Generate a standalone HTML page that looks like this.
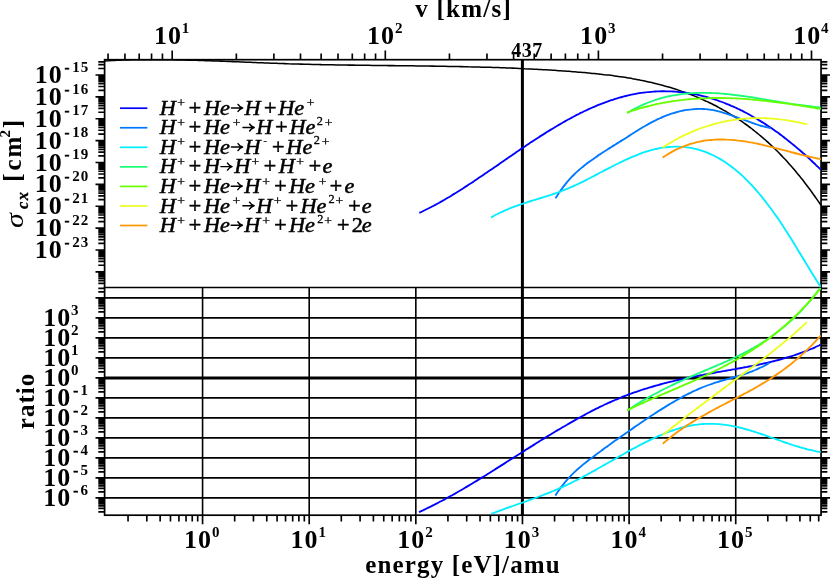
<!DOCTYPE html>
<html><head><meta charset="utf-8"><title>cross sections</title>
<style>html,body{margin:0;padding:0;background:#fff}svg{display:block;will-change:transform}</style></head>
<body>
<svg width="830" height="579" viewBox="0 0 830 579">
<rect width="830" height="579" fill="#fff"/>
<g stroke="#000" fill="none" stroke-linecap="butt">
<line x1="104.6" x2="821.05" y1="497.94" y2="497.94" stroke-width="1.7"/>
<line x1="104.6" x2="821.05" y1="477.94" y2="477.94" stroke-width="1.7"/>
<line x1="104.6" x2="821.05" y1="457.94" y2="457.94" stroke-width="1.7"/>
<line x1="104.6" x2="821.05" y1="437.94" y2="437.94" stroke-width="1.7"/>
<line x1="104.6" x2="821.05" y1="417.94" y2="417.94" stroke-width="1.7"/>
<line x1="104.6" x2="821.05" y1="397.94" y2="397.94" stroke-width="1.7"/>
<line x1="104.6" x2="821.05" y1="357.94" y2="357.94" stroke-width="1.7"/>
<line x1="104.6" x2="821.05" y1="337.94" y2="337.94" stroke-width="1.7"/>
<line x1="104.6" x2="821.05" y1="317.94" y2="317.94" stroke-width="1.7"/>
<line x1="104.6" x2="821.05" y1="297.94" y2="297.94" stroke-width="1.7"/>
<line x1="202.57" x2="202.57" y1="287.5" y2="515.2" stroke-width="1.6"/>
<line x1="309.2" x2="309.2" y1="287.5" y2="515.2" stroke-width="1.6"/>
<line x1="415.83" x2="415.83" y1="287.5" y2="515.2" stroke-width="1.6"/>
<line x1="629.09" x2="629.09" y1="287.5" y2="515.2" stroke-width="1.6"/>
<line x1="735.72" x2="735.72" y1="287.5" y2="515.2" stroke-width="1.6"/>
</g>
<g stroke="#000" fill="none" stroke-width="1.7" stroke-linecap="square">
<rect x="104.6" y="59.7" width="716.45" height="455.5"/>
<line x1="104.6" x2="821.05" y1="287.5" y2="287.5"/>
</g>
<line x1="522.4" x2="522.4" y1="59.7" y2="515.2" stroke="#000" stroke-width="3"/>
<line x1="104.6" x2="821.05" y1="377.94" y2="377.94" stroke="#000" stroke-width="3"/>
<defs><clipPath id="cu"><rect x="104.6" y="59.7" width="716.45" height="227.8"/></clipPath><clipPath id="cl"><rect x="104.6" y="287.5" width="716.45" height="227.7"/></clipPath></defs>
<g fill="none" stroke-width="1.85" stroke-linejoin="round" clip-path="url(#cu)">
<path d="M104.6,60.9C105.3,60.8 107.3,60.7 108.6,60.7C109.9,60.6 111.3,60.5 112.6,60.5C113.9,60.4 115.3,60.4 116.6,60.3C117.9,60.3 119.3,60.2 120.6,60.2C121.9,60.1 123.3,60.1 124.6,60C125.9,60 127.3,60 128.6,59.9C129.9,59.9 131.3,59.9 132.6,59.8C133.9,59.8 135.3,59.8 136.6,59.8C137.9,59.8 139.3,59.7 140.6,59.7C141.9,59.7 143.3,59.7 144.6,59.7C145.9,59.7 147.3,59.7 148.6,59.7C149.9,59.6 151.3,59.6 152.6,59.6C153.9,59.6 155.3,59.6 156.6,59.6C157.9,59.7 159.3,59.7 160.6,59.7C161.9,59.7 163.3,59.7 164.6,59.7C165.9,59.7 167.3,59.7 168.6,59.7C169.9,59.8 171.3,59.8 172.6,59.8C173.9,59.8 175.3,59.8 176.6,59.9C177.9,59.9 179.3,59.9 180.6,59.9C181.9,60 183.3,60 184.6,60C185.9,60.1 187.3,60.1 188.6,60.1C189.9,60.2 191.3,60.2 192.6,60.2C193.9,60.3 195.3,60.3 196.6,60.3C197.9,60.4 199.3,60.4 200.6,60.5C201.9,60.5 203.3,60.5 204.6,60.6C205.9,60.6 207.3,60.7 208.6,60.7C209.9,60.8 211.3,60.8 212.6,60.9C213.9,60.9 215.3,60.9 216.6,61C217.9,61 219.3,61.1 220.6,61.1C221.9,61.2 223.3,61.2 224.6,61.3C225.9,61.3 227.3,61.4 228.6,61.5C229.9,61.5 231.3,61.6 232.6,61.6C233.9,61.7 235.3,61.7 236.6,61.8C237.9,61.8 239.3,61.9 240.6,61.9C241.9,62 243.3,62 244.6,62.1C245.9,62.1 247.3,62.2 248.6,62.3C249.9,62.3 251.3,62.4 252.6,62.4C253.9,62.5 255.3,62.5 256.6,62.6C257.9,62.6 259.3,62.7 260.6,62.7C261.9,62.8 263.3,62.8 264.6,62.9C265.9,62.9 267.3,63 268.6,63C269.9,63.1 271.3,63.2 272.6,63.2C273.9,63.2 275.3,63.3 276.6,63.3C277.9,63.4 279.3,63.4 280.6,63.5C281.9,63.5 283.3,63.6 284.6,63.6C285.9,63.7 287.3,63.7 288.6,63.8C289.9,63.8 291.3,63.8 292.6,63.9C293.9,63.9 295.3,64 296.6,64C297.9,64 299.3,64.1 300.6,64.1C301.9,64.2 303.3,64.2 304.6,64.2C305.9,64.3 307.3,64.3 308.6,64.3C309.9,64.4 311.3,64.4 312.6,64.4C313.9,64.5 315.3,64.5 316.6,64.5C317.9,64.5 319.3,64.6 320.6,64.6C321.9,64.6 323.3,64.7 324.6,64.7C325.9,64.7 327.3,64.7 328.6,64.8C329.9,64.8 331.3,64.8 332.6,64.8C333.9,64.9 335.3,64.9 336.6,64.9C337.9,64.9 339.3,64.9 340.6,65C341.9,65 343.3,65 344.6,65C345.9,65 347.3,65.1 348.6,65.1C349.9,65.1 351.3,65.1 352.6,65.1C353.9,65.2 355.3,65.2 356.6,65.2C357.9,65.2 359.3,65.2 360.6,65.2C361.9,65.3 363.3,65.3 364.6,65.3C365.9,65.3 367.3,65.3 368.6,65.3C369.9,65.4 371.3,65.4 372.6,65.4C373.9,65.4 375.3,65.4 376.6,65.4C377.9,65.5 379.3,65.5 380.6,65.5C381.9,65.5 383.3,65.5 384.6,65.5C385.9,65.5 387.3,65.6 388.6,65.6C389.9,65.6 391.3,65.6 392.6,65.6C393.9,65.6 395.3,65.6 396.6,65.7C397.9,65.7 399.3,65.7 400.6,65.7C401.9,65.7 403.3,65.7 404.6,65.7C405.9,65.8 407.3,65.8 408.6,65.8C409.9,65.8 411.3,65.8 412.6,65.8C413.9,65.9 415.3,65.9 416.6,65.9C417.9,65.9 419.3,65.9 420.6,65.9C421.9,66 423.3,66 424.6,66C425.9,66 427.3,66 428.6,66C429.9,66.1 431.3,66.1 432.6,66.1C433.9,66.1 435.3,66.1 436.6,66.2C437.9,66.2 439.3,66.2 440.6,66.2C441.9,66.2 443.3,66.3 444.6,66.3C445.9,66.3 447.3,66.3 448.6,66.4C449.9,66.4 451.3,66.4 452.6,66.4C453.9,66.4 455.3,66.5 456.6,66.5C457.9,66.5 459.3,66.6 460.6,66.6C461.9,66.6 463.3,66.6 464.6,66.7C465.9,66.7 467.3,66.7 468.6,66.8C469.9,66.8 471.3,66.8 472.6,66.9C473.9,66.9 475.3,66.9 476.6,67C477.9,67 479.3,67 480.6,67.1C481.9,67.1 483.3,67.1 484.6,67.2C485.9,67.2 487.3,67.2 488.6,67.3C489.9,67.3 491.3,67.4 492.6,67.4C493.9,67.5 495.3,67.5 496.6,67.5C497.9,67.6 499.3,67.6 500.6,67.7C501.9,67.7 503.3,67.8 504.6,67.8C505.9,67.9 507.3,67.9 508.6,68C509.9,68 511.3,68.1 512.6,68.1C513.9,68.2 515.3,68.3 516.6,68.3C517.9,68.4 519.3,68.4 520.6,68.5C521.9,68.5 523.3,68.6 524.6,68.7C525.9,68.7 527.3,68.8 528.6,68.9C529.9,68.9 531.3,69 532.6,69.1C533.9,69.1 535.3,69.2 536.6,69.3C537.9,69.4 539.3,69.4 540.6,69.5C541.9,69.6 543.3,69.7 544.6,69.7C545.9,69.8 547.3,69.9 548.6,70C549.9,70.1 551.3,70.1 552.6,70.2C553.9,70.3 555.3,70.4 556.6,70.5C557.9,70.6 559.3,70.7 560.6,70.8C561.9,70.9 563.3,71 564.6,71C565.9,71.1 567.3,71.2 568.6,71.3C569.9,71.4 571.3,71.5 572.6,71.7C573.9,71.8 575.3,71.9 576.6,72C577.9,72.1 579.3,72.2 580.6,72.3C581.9,72.4 583.3,72.5 584.6,72.6C585.9,72.8 587.3,72.9 588.6,73C589.9,73.1 591.3,73.3 592.6,73.4C593.9,73.5 595.3,73.7 596.6,73.8C597.9,73.9 599.3,74.1 600.6,74.2C601.9,74.4 603.3,74.5 604.6,74.7C605.9,74.8 607.3,75 608.6,75.1C609.9,75.3 611.3,75.5 612.6,75.6C613.9,75.8 615.3,76 616.6,76.2C617.9,76.4 619.3,76.5 620.6,76.7C621.9,76.9 623.3,77.1 624.6,77.3C625.9,77.6 627.3,77.8 628.6,78C629.9,78.2 631.3,78.4 632.6,78.7C633.9,78.9 635.3,79.2 636.6,79.4C637.9,79.7 639.3,79.9 640.6,80.2C641.9,80.4 643.3,80.7 644.6,81C645.9,81.3 647.3,81.6 648.6,81.9C649.9,82.2 651.3,82.5 652.6,82.8C653.9,83.1 655.3,83.4 656.6,83.8C657.9,84.1 659.3,84.4 660.6,84.8C661.9,85.1 663.3,85.5 664.6,85.9C665.9,86.2 667.3,86.6 668.6,87C669.9,87.4 671.3,87.8 672.6,88.2C673.9,88.6 675.3,89.1 676.6,89.5C677.9,89.9 679.3,90.4 680.6,90.9C681.9,91.3 683.3,91.8 684.6,92.3C685.9,92.7 687.3,93.2 688.6,93.8C689.9,94.3 691.3,94.8 692.6,95.3C693.9,95.8 695.3,96.4 696.6,96.9C697.9,97.5 699.3,98.1 700.6,98.7C701.9,99.2 703.3,99.8 704.6,100.5C705.9,101.1 707.3,101.7 708.6,102.3C709.9,103 711.3,103.6 712.6,104.3C713.9,105 715.3,105.6 716.6,106.3C717.9,107 719.3,107.8 720.6,108.5C721.9,109.2 723.3,110 724.6,110.7C725.9,111.5 727.3,112.3 728.6,113.1C729.9,113.9 731.3,114.7 732.6,115.5C733.9,116.3 735.3,117.2 736.6,118C737.9,118.9 739.3,119.8 740.6,120.7C741.9,121.6 743.3,122.5 744.6,123.5C745.9,124.4 747.3,125.4 748.6,126.4C749.9,127.4 751.3,128.4 752.6,129.4C753.9,130.5 755.3,131.5 756.6,132.6C757.9,133.7 759.3,134.8 760.6,135.9C761.9,137 763.3,138.2 764.6,139.3C765.9,140.5 767.3,141.7 768.6,142.9C769.9,144.1 771.3,145.4 772.6,146.6C773.9,147.9 775.3,149.2 776.6,150.5C777.9,151.9 779.3,153.2 780.6,154.6C781.9,156 783.3,157.4 784.6,158.8C785.9,160.2 787.3,161.7 788.6,163.2C789.9,164.7 791.3,166.2 792.6,167.7C793.9,169.3 795.3,170.8 796.6,172.5C797.9,174.1 799.3,175.7 800.6,177.4C801.9,179 803.3,180.7 804.6,182.5C805.9,184.2 807.3,186 808.6,187.8C809.9,189.5 811.3,191.4 812.6,193.2C813.9,195.1 815.3,197 816.6,198.9C817.9,200.8 819.9,203.8 820.6,204.8C821.3,205.8 820.7,204.9 820.7,205" stroke="#000" stroke-width="1.55"/>
<path d="M419.3,212.9C420,212.6 422,211.7 423.3,211C424.6,210.4 426,209.7 427.3,209C428.6,208.4 430,207.7 431.3,207C432.6,206.3 434,205.6 435.3,204.9C436.6,204.1 438,203.4 439.3,202.7C440.6,201.9 442,201.1 443.3,200.4C444.6,199.6 446,198.8 447.3,198C448.6,197.3 450,196.5 451.3,195.7C452.6,194.8 454,194 455.3,193.2C456.6,192.4 458,191.5 459.3,190.7C460.6,189.9 462,189 463.3,188.2C464.6,187.3 466,186.4 467.3,185.6C468.6,184.7 470,183.8 471.3,183C472.6,182.1 474,181.2 475.3,180.3C476.6,179.4 478,178.5 479.3,177.6C480.6,176.7 482,175.8 483.3,174.9C484.6,174 486,173.1 487.3,172.2C488.6,171.3 490,170.4 491.3,169.5C492.6,168.5 494,167.6 495.3,166.7C496.6,165.8 498,164.9 499.3,163.9C500.6,163 502,162.1 503.3,161.2C504.6,160.3 506,159.3 507.3,158.4C508.6,157.5 510,156.6 511.3,155.7C512.6,154.8 514,153.8 515.3,152.9C516.6,152 518,151.1 519.3,150.2C520.6,149.3 522,148.4 523.3,147.5C524.6,146.6 526,145.7 527.3,144.8C528.6,143.9 530,143 531.3,142.1C532.6,141.3 534,140.4 535.3,139.5C536.6,138.6 538,137.8 539.3,136.9C540.6,136.1 542,135.2 543.3,134.4C544.6,133.5 546,132.7 547.3,131.8C548.6,131 550,130.2 551.3,129.4C552.6,128.6 554,127.8 555.3,127C556.6,126.2 558,125.4 559.3,124.6C560.6,123.8 562,123 563.3,122.3C564.6,121.5 566,120.8 567.3,120C568.6,119.3 570,118.6 571.3,117.9C572.6,117.1 574,116.4 575.3,115.7C576.6,115 578,114.4 579.3,113.7C580.6,113 582,112.4 583.3,111.7C584.6,111.1 586,110.4 587.3,109.8C588.6,109.2 590,108.6 591.3,108C592.6,107.4 594,106.8 595.3,106.3C596.6,105.7 598,105.2 599.3,104.6C600.6,104.1 602,103.6 603.3,103.1C604.6,102.6 606,102.1 607.3,101.6C608.6,101.1 610,100.7 611.3,100.2C612.6,99.8 614,99.3 615.3,98.9C616.6,98.5 618,98.1 619.3,97.7C620.6,97.4 622,97 623.3,96.6C624.6,96.3 626,96 627.3,95.6C628.6,95.3 630,95 631.3,94.7C632.6,94.5 634,94.2 635.3,93.9C636.6,93.7 638,93.5 639.3,93.2C640.6,93 642,92.8 643.3,92.6C644.6,92.5 646,92.3 647.3,92.2C648.6,92 650,91.9 651.3,91.8C652.6,91.7 654,91.6 655.3,91.5C656.6,91.4 658,91.4 659.3,91.3C660.6,91.3 662,91.2 663.3,91.2C664.6,91.2 666,91.2 667.3,91.3C668.6,91.3 670,91.3 671.3,91.4C672.6,91.5 674,91.5 675.3,91.6C676.6,91.7 678,91.8 679.3,92C680.6,92.1 682,92.3 683.3,92.4C684.6,92.6 686,92.8 687.3,93C688.6,93.2 690,93.4 691.3,93.6C692.6,93.9 694,94.1 695.3,94.4C696.6,94.6 698,94.9 699.3,95.2C700.6,95.5 702,95.8 703.3,96.2C704.6,96.5 706,96.9 707.3,97.2C708.6,97.6 710,98 711.3,98.4C712.6,98.8 714,99.2 715.3,99.7C716.6,100.1 718,100.6 719.3,101.1C720.6,101.5 722,102 723.3,102.5C724.6,103 726,103.6 727.3,104.1C728.6,104.6 730,105.2 731.3,105.8C732.6,106.3 734,106.9 735.3,107.5C736.6,108.2 738,108.8 739.3,109.4C740.6,110.1 742,110.7 743.3,111.4C744.6,112.1 746,112.8 747.3,113.5C748.6,114.2 750,114.9 751.3,115.7C752.6,116.4 754,117.2 755.3,118C756.6,118.7 758,119.5 759.3,120.4C760.6,121.2 762,122 763.3,122.8C764.6,123.7 766,124.5 767.3,125.4C768.6,126.3 770,127.2 771.3,128.1C772.6,129 774,130 775.3,130.9C776.6,131.9 778,132.8 779.3,133.8C780.6,134.8 782,135.8 783.3,136.8C784.6,137.8 786,138.8 787.3,139.9C788.6,140.9 790,142 791.3,143.1C792.6,144.2 794,145.3 795.3,146.4C796.6,147.5 798,148.6 799.3,149.8C800.6,150.9 802,152.1 803.3,153.3C804.6,154.4 806,155.6 807.3,156.8C808.6,158.1 810,159.3 811.3,160.5C812.6,161.8 814,163.1 815.3,164.3C816.6,165.6 818.4,167.3 819.3,168.2C820.2,169.1 820.5,169.4 820.7,169.6" stroke="#0000ff"/>
<path d="M555.5,198.3C556.2,197.3 558.2,194.1 559.5,192.1C560.8,190.2 562.2,188.4 563.5,186.6C564.8,184.9 566.2,183.2 567.5,181.6C568.8,180.1 570.2,178.6 571.5,177.2C572.8,175.8 574.2,174.5 575.5,173.2C576.8,171.9 578.2,170.7 579.5,169.5C580.8,168.4 582.2,167.3 583.5,166.2C584.8,165.1 586.2,164.1 587.5,163.1C588.8,162.1 590.2,161.1 591.5,160.2C592.8,159.2 594.2,158.3 595.5,157.4C596.8,156.4 598.2,155.5 599.5,154.6C600.8,153.8 602.2,152.9 603.5,152C604.8,151.2 606.2,150.3 607.5,149.5C608.8,148.6 610.2,147.8 611.5,147C612.8,146.1 614.2,145.3 615.5,144.5C616.8,143.6 618.2,142.8 619.5,142C620.8,141.1 622.2,140.3 623.5,139.5C624.8,138.6 626.2,137.8 627.5,136.9C628.8,136 630.2,135.2 631.5,134.3C632.8,133.5 634.2,132.6 635.5,131.8C636.8,130.9 638.2,130.1 639.5,129.3C640.8,128.4 642.2,127.6 643.5,126.8C644.8,126.1 646.2,125.3 647.5,124.6C648.8,123.8 650.2,123.1 651.5,122.4C652.8,121.7 654.2,121 655.5,120.4C656.8,119.7 658.2,119.1 659.5,118.5C660.8,117.9 662.2,117.3 663.5,116.7C664.8,116.2 666.2,115.6 667.5,115.1C668.8,114.6 670.2,114.2 671.5,113.7C672.8,113.3 674.2,112.9 675.5,112.5C676.8,112.1 678.2,111.7 679.5,111.4C680.8,111.1 682.2,110.8 683.5,110.5C684.8,110.2 686.2,110 687.5,109.8C688.8,109.6 690.2,109.4 691.5,109.3C692.8,109.1 694.2,109 695.5,109C696.8,108.9 698.2,108.9 699.5,108.9C700.8,108.9 702.2,108.9 703.5,109C704.8,109.1 706.2,109.2 707.5,109.3C708.8,109.5 710.2,109.7 711.5,109.9C712.8,110.1 714.2,110.4 715.5,110.7C716.8,111 718.2,111.3 719.5,111.6C720.8,112 722.2,112.4 723.5,112.8C724.8,113.2 726.2,113.6 727.5,114C728.8,114.4 730.2,114.9 731.5,115.4C732.8,115.8 734.2,116.3 735.5,116.8C736.8,117.3 738.2,117.8 739.5,118.3C740.8,118.7 742.2,119.2 743.5,119.7C744.8,120.2 746.2,120.7 747.5,121.2C748.8,121.7 750.2,122.2 751.5,122.6C752.8,123.1 754.2,123.6 755.5,124C756.8,124.5 758.2,124.9 759.5,125.3C760.8,125.7 762.2,126.1 763.5,126.4C764.8,126.8 766.3,127.2 767.5,127.4C768.7,127.7 770,128 770.5,128.1" stroke="#0078ff"/>
<path d="M491,217.6C491.7,217.2 493.7,216 495,215.3C496.3,214.6 497.7,213.9 499,213.2C500.3,212.6 501.7,211.9 503,211.3C504.3,210.7 505.7,210.1 507,209.6C508.3,209 509.7,208.4 511,207.9C512.3,207.4 513.7,206.9 515,206.4C516.3,205.9 517.7,205.4 519,205C520.3,204.5 521.7,204 523,203.6C524.3,203.1 525.7,202.7 527,202.3C528.3,201.9 529.7,201.4 531,201C532.3,200.6 533.7,200.2 535,199.8C536.3,199.4 537.7,199 539,198.6C540.3,198.2 541.7,197.8 543,197.4C544.3,196.9 545.7,196.5 547,196.1C548.3,195.7 549.7,195.3 551,194.8C552.3,194.4 553.7,193.9 555,193.5C556.3,193 557.7,192.5 559,192.1C560.3,191.6 561.7,191.1 563,190.5C564.3,190 565.7,189.5 567,188.9C568.3,188.4 569.7,187.8 571,187.2C572.3,186.6 573.7,186 575,185.4C576.3,184.8 577.7,184.2 579,183.5C580.3,182.9 581.7,182.2 583,181.6C584.3,180.9 585.7,180.2 587,179.6C588.3,178.9 589.7,178.2 591,177.5C592.3,176.8 593.7,176.1 595,175.4C596.3,174.7 597.7,174 599,173.3C600.3,172.6 601.7,171.9 603,171.2C604.3,170.5 605.7,169.8 607,169.1C608.3,168.4 609.7,167.7 611,167.1C612.3,166.4 613.7,165.7 615,165C616.3,164.3 617.7,163.7 619,163C620.3,162.4 621.7,161.7 623,161.1C624.3,160.5 625.7,159.8 627,159.2C628.3,158.6 629.7,158 631,157.4C632.3,156.9 633.7,156.3 635,155.8C636.3,155.2 637.7,154.7 639,154.2C640.3,153.7 641.7,153.2 643,152.7C644.3,152.2 645.7,151.8 647,151.4C648.3,151 649.7,150.6 651,150.2C652.3,149.8 653.7,149.5 655,149.2C656.3,148.9 657.7,148.6 659,148.3C660.3,148 661.7,147.8 663,147.6C664.3,147.4 665.7,147.2 667,147.1C668.3,147 669.7,146.8 671,146.8C672.3,146.7 673.7,146.6 675,146.6C676.3,146.6 677.7,146.6 679,146.7C680.3,146.7 681.7,146.8 683,146.9C684.3,147 685.7,147.1 687,147.3C688.3,147.5 689.7,147.7 691,147.9C692.3,148.2 693.7,148.5 695,148.8C696.3,149.1 697.7,149.4 699,149.8C700.3,150.2 701.7,150.6 703,151.1C704.3,151.6 705.7,152 707,152.6C708.3,153.1 709.7,153.7 711,154.3C712.3,154.9 713.7,155.5 715,156.2C716.3,156.9 717.7,157.6 719,158.4C720.3,159.1 721.7,159.9 723,160.8C724.3,161.6 725.7,162.5 727,163.4C728.3,164.3 729.7,165.3 731,166.3C732.3,167.3 733.7,168.3 735,169.4C736.3,170.5 737.7,171.6 739,172.8C740.3,173.9 741.7,175.2 743,176.4C744.3,177.7 745.7,179 747,180.3C748.3,181.6 749.7,183 751,184.5C752.3,185.9 753.7,187.3 755,188.8C756.3,190.4 757.7,191.9 759,193.5C760.3,195.1 761.7,196.7 763,198.4C764.3,200 765.7,201.7 767,203.5C768.3,205.2 769.7,207 771,208.8C772.3,210.6 773.7,212.5 775,214.4C776.3,216.2 777.7,218.2 779,220.1C780.3,222.1 781.7,224.1 783,226.1C784.3,228.1 785.7,230.2 787,232.3C788.3,234.4 789.7,236.5 791,238.6C792.3,240.8 793.7,243 795,245.1C796.3,247.3 797.7,249.5 799,251.7C800.3,253.9 801.7,256.1 803,258.3C804.3,260.5 805.7,262.7 807,264.9C808.3,267.1 809.7,269.3 811,271.5C812.3,273.6 813.7,275.8 815,277.9C816.3,280 818,282.7 819,284.2C820,285.7 820.4,286.4 820.7,286.8" stroke="#00eeff"/>
<path d="M627.1,113.1C627.8,112.7 629.8,111.5 631.1,110.8C632.4,110 633.8,109.3 635.1,108.6C636.4,107.9 637.8,107.2 639.1,106.6C640.4,105.9 641.8,105.3 643.1,104.7C644.4,104.1 645.8,103.6 647.1,103C648.4,102.5 649.8,102 651.1,101.5C652.4,101 653.8,100.5 655.1,100.1C656.4,99.6 657.8,99.2 659.1,98.8C660.4,98.4 661.8,98.1 663.1,97.7C664.4,97.4 665.8,97 667.1,96.7C668.4,96.4 669.8,96.1 671.1,95.8C672.4,95.6 673.8,95.3 675.1,95.1C676.4,94.9 677.8,94.7 679.1,94.5C680.4,94.3 681.8,94.1 683.1,93.9C684.4,93.8 685.8,93.7 687.1,93.5C688.4,93.4 689.8,93.3 691.1,93.2C692.4,93.1 693.8,93.1 695.1,93C696.4,92.9 697.8,92.9 699.1,92.9C700.4,92.8 701.8,92.8 703.1,92.8C704.4,92.8 705.8,92.8 707.1,92.9C708.4,92.9 709.8,92.9 711.1,93C712.4,93 713.8,93.1 715.1,93.1C716.4,93.2 717.8,93.3 719.1,93.4C720.4,93.5 721.8,93.6 723.1,93.7C724.4,93.8 725.8,93.9 727.1,94.1C728.4,94.2 729.8,94.3 731.1,94.5C732.4,94.6 733.8,94.8 735.1,95C736.4,95.1 737.8,95.3 739.1,95.5C740.4,95.6 741.8,95.8 743.1,96C744.4,96.2 745.8,96.4 747.1,96.6C748.4,96.8 749.8,97 751.1,97.2C752.4,97.4 753.8,97.6 755.1,97.8C756.4,98 757.8,98.3 759.1,98.5C760.4,98.7 761.8,98.9 763.1,99.1C764.4,99.4 765.8,99.6 767.1,99.8C768.4,100 769.8,100.3 771.1,100.5C772.4,100.7 773.8,100.9 775.1,101.2C776.4,101.4 777.8,101.6 779.1,101.8C780.4,102.1 781.8,102.3 783.1,102.5C784.4,102.7 785.8,102.9 787.1,103.2C788.4,103.4 789.8,103.6 791.1,103.8C792.4,104 793.8,104.2 795.1,104.4C796.4,104.6 797.8,104.8 799.1,105C800.4,105.2 801.8,105.4 803.1,105.5C804.4,105.7 805.8,105.9 807.1,106C808.4,106.2 809.8,106.4 811.1,106.5C812.4,106.7 813.8,106.8 815.1,106.9C816.4,107.1 818.2,107.2 819.1,107.3C820,107.4 820.4,107.4 820.7,107.4" stroke="#18fc78"/>
<path d="M627.1,112.6C627.8,112.3 629.8,111.6 631.1,111.2C632.4,110.7 633.8,110.3 635.1,109.9C636.4,109.5 637.8,109.1 639.1,108.7C640.4,108.3 641.8,107.9 643.1,107.5C644.4,107.2 645.8,106.8 647.1,106.5C648.4,106.1 649.8,105.8 651.1,105.5C652.4,105.1 653.8,104.8 655.1,104.5C656.4,104.2 657.8,103.9 659.1,103.7C660.4,103.4 661.8,103.1 663.1,102.9C664.4,102.6 665.8,102.4 667.1,102.1C668.4,101.9 669.8,101.7 671.1,101.5C672.4,101.3 673.8,101.1 675.1,100.9C676.4,100.7 677.8,100.5 679.1,100.3C680.4,100.2 681.8,100 683.1,99.9C684.4,99.7 685.8,99.6 687.1,99.4C688.4,99.3 689.8,99.2 691.1,99.1C692.4,99 693.8,98.9 695.1,98.8C696.4,98.7 697.8,98.6 699.1,98.5C700.4,98.4 701.8,98.4 703.1,98.3C704.4,98.2 705.8,98.2 707.1,98.2C708.4,98.1 709.8,98.1 711.1,98C712.4,98 713.8,98 715.1,98C716.4,98 717.8,98 719.1,98C720.4,98 721.8,98 723.1,98C724.4,98 725.8,98.1 727.1,98.1C728.4,98.1 729.8,98.2 731.1,98.2C732.4,98.3 733.8,98.3 735.1,98.4C736.4,98.5 737.8,98.5 739.1,98.6C740.4,98.7 741.8,98.7 743.1,98.8C744.4,98.9 745.8,99 747.1,99.1C748.4,99.2 749.8,99.3 751.1,99.4C752.4,99.5 753.8,99.7 755.1,99.8C756.4,99.9 757.8,100 759.1,100.2C760.4,100.3 761.8,100.4 763.1,100.6C764.4,100.7 765.8,100.8 767.1,101C768.4,101.1 769.8,101.3 771.1,101.5C772.4,101.6 773.8,101.8 775.1,102C776.4,102.1 777.8,102.3 779.1,102.5C780.4,102.6 781.8,102.8 783.1,103C784.4,103.2 785.8,103.4 787.1,103.6C788.4,103.8 789.8,104 791.1,104.2C792.4,104.4 793.8,104.6 795.1,104.8C796.4,105 797.8,105.2 799.1,105.4C800.4,105.6 801.8,105.8 803.1,106C804.4,106.2 805.8,106.4 807.1,106.7C808.4,106.9 809.8,107.1 811.1,107.3C812.4,107.5 813.8,107.8 815.1,108C816.4,108.2 818.2,108.5 819.1,108.7C820,108.8 820.4,108.9 820.7,109" stroke="#66ff00"/>
<path d="M662.6,147.5C663.3,147.1 665.3,145.8 666.6,145C667.9,144.2 669.3,143.4 670.6,142.6C671.9,141.8 673.3,141.1 674.6,140.3C675.9,139.6 677.3,138.9 678.6,138.2C679.9,137.5 681.3,136.8 682.6,136.1C683.9,135.5 685.3,134.8 686.6,134.2C687.9,133.6 689.3,133 690.6,132.4C691.9,131.8 693.3,131.3 694.6,130.7C695.9,130.2 697.3,129.6 698.6,129.1C699.9,128.6 701.3,128.1 702.6,127.7C703.9,127.2 705.3,126.7 706.6,126.3C707.9,125.9 709.3,125.5 710.6,125.1C711.9,124.7 713.3,124.3 714.6,123.9C715.9,123.5 717.3,123.2 718.6,122.9C719.9,122.5 721.3,122.2 722.6,121.9C723.9,121.6 725.3,121.4 726.6,121.1C727.9,120.9 729.3,120.6 730.6,120.4C731.9,120.2 733.3,120 734.6,119.8C735.9,119.6 737.3,119.4 738.6,119.2C739.9,119.1 741.3,118.9 742.6,118.8C743.9,118.7 745.3,118.6 746.6,118.5C747.9,118.4 749.3,118.3 750.6,118.2C751.9,118.2 753.3,118.1 754.6,118.1C755.9,118.1 757.3,118.1 758.6,118.1C759.9,118.1 761.3,118.1 762.6,118.1C763.9,118.1 765.3,118.2 766.6,118.2C767.9,118.3 769.3,118.4 770.6,118.5C771.9,118.6 773.3,118.7 774.6,118.8C775.9,118.9 777.3,119 778.6,119.2C779.9,119.3 781.3,119.5 782.6,119.7C783.9,119.8 785.3,120 786.6,120.2C787.9,120.4 789.3,120.7 790.6,120.9C791.9,121.1 793.3,121.4 794.6,121.6C795.9,121.9 797.3,122.2 798.6,122.4C799.9,122.7 801.3,123 802.6,123.3C803.9,123.6 805.9,124.1 806.6,124.3C807.3,124.5 806.8,124.3 806.8,124.4" stroke="#eaff20"/>
<path d="M662.6,157.6C663.3,157.1 665.3,155.8 666.6,155C667.9,154.1 669.3,153.3 670.6,152.6C671.9,151.8 673.3,151.1 674.6,150.4C675.9,149.7 677.3,149.1 678.6,148.5C679.9,147.9 681.3,147.3 682.6,146.8C683.9,146.2 685.3,145.7 686.6,145.2C687.9,144.8 689.3,144.3 690.6,143.9C691.9,143.5 693.3,143.1 694.6,142.8C695.9,142.4 697.3,142.1 698.6,141.8C699.9,141.5 701.3,141.3 702.6,141C703.9,140.8 705.3,140.6 706.6,140.4C707.9,140.3 709.3,140.1 710.6,140C711.9,139.9 713.3,139.8 714.6,139.7C715.9,139.6 717.3,139.5 718.6,139.5C719.9,139.5 721.3,139.5 722.6,139.5C723.9,139.5 725.3,139.5 726.6,139.6C727.9,139.6 729.3,139.7 730.6,139.8C731.9,139.9 733.3,140 734.6,140.1C735.9,140.3 737.3,140.4 738.6,140.6C739.9,140.7 741.3,140.9 742.6,141.1C743.9,141.3 745.3,141.5 746.6,141.7C747.9,141.9 749.3,142.2 750.6,142.4C751.9,142.6 753.3,142.9 754.6,143.2C755.9,143.4 757.3,143.7 758.6,144C759.9,144.3 761.3,144.6 762.6,144.9C763.9,145.2 765.3,145.5 766.6,145.8C767.9,146.1 769.3,146.5 770.6,146.8C771.9,147.1 773.3,147.4 774.6,147.8C775.9,148.1 777.3,148.5 778.6,148.8C779.9,149.2 781.3,149.5 782.6,149.9C783.9,150.2 785.3,150.6 786.6,150.9C787.9,151.3 789.3,151.6 790.6,152C791.9,152.3 793.3,152.7 794.6,153C795.9,153.4 797.3,153.7 798.6,154C799.9,154.4 801.3,154.7 802.6,155.1C803.9,155.4 805.3,155.7 806.6,156C807.9,156.4 809.3,156.7 810.6,157C811.9,157.3 813.3,157.6 814.6,157.9C815.9,158.2 817.6,158.5 818.6,158.7C819.6,158.9 820.4,159.1 820.7,159.1" stroke="#ff9800"/>
</g>
<g fill="none" stroke-width="1.85" stroke-linejoin="round" clip-path="url(#cl)">
<path d="M419,512.1C419.7,511.8 421.7,510.9 423,510.3C424.3,509.6 425.7,509 427,508.3C428.3,507.7 429.7,507 431,506.4C432.3,505.7 433.7,505 435,504.4C436.3,503.7 437.7,503 439,502.3C440.3,501.6 441.7,500.9 443,500.2C444.3,499.5 445.7,498.7 447,498C448.3,497.3 449.7,496.5 451,495.8C452.3,495.1 453.7,494.3 455,493.6C456.3,492.8 457.7,492 459,491.3C460.3,490.5 461.7,489.7 463,489C464.3,488.2 465.7,487.4 467,486.6C468.3,485.8 469.7,485 471,484.2C472.3,483.4 473.7,482.6 475,481.8C476.3,481 477.7,480.2 479,479.4C480.3,478.6 481.7,477.7 483,476.9C484.3,476.1 485.7,475.3 487,474.4C488.3,473.6 489.7,472.8 491,471.9C492.3,471.1 493.7,470.3 495,469.4C496.3,468.6 497.7,467.7 499,466.9C500.3,466.1 501.7,465.2 503,464.4C504.3,463.5 505.7,462.7 507,461.8C508.3,461 509.7,460.1 511,459.3C512.3,458.4 513.7,457.6 515,456.7C516.3,455.9 517.7,455 519,454.2C520.3,453.4 521.7,452.5 523,451.7C524.3,450.8 525.7,450 527,449.1C528.3,448.3 529.7,447.4 531,446.6C532.3,445.8 533.7,444.9 535,444.1C536.3,443.2 537.7,442.4 539,441.6C540.3,440.7 541.7,439.9 543,439.1C544.3,438.3 545.7,437.4 547,436.6C548.3,435.8 549.7,435 551,434.2C552.3,433.4 553.7,432.6 555,431.8C556.3,430.9 557.7,430.1 559,429.4C560.3,428.6 561.7,427.8 563,427C564.3,426.2 565.7,425.4 567,424.7C568.3,423.9 569.7,423.1 571,422.4C572.3,421.6 573.7,420.8 575,420.1C576.3,419.3 577.7,418.6 579,417.9C580.3,417.1 581.7,416.4 583,415.7C584.3,415 585.7,414.2 587,413.5C588.3,412.8 589.7,412.1 591,411.4C592.3,410.8 593.7,410.1 595,409.4C596.3,408.7 597.7,408.1 599,407.4C600.3,406.8 601.7,406.1 603,405.5C604.3,404.8 605.7,404.2 607,403.6C608.3,403 609.7,402.4 611,401.8C612.3,401.2 613.7,400.6 615,400C616.3,399.5 617.7,398.9 619,398.3C620.3,397.8 621.7,397.2 623,396.7C624.3,396.2 625.7,395.7 627,395.2C628.3,394.6 629.7,394.1 631,393.7C632.3,393.2 633.7,392.7 635,392.2C636.3,391.8 637.7,391.3 639,390.9C640.3,390.4 641.7,390 643,389.5C644.3,389.1 645.7,388.7 647,388.3C648.3,387.9 649.7,387.5 651,387.1C652.3,386.7 653.7,386.3 655,385.9C656.3,385.5 657.7,385.2 659,384.8C660.3,384.4 661.7,384.1 663,383.7C664.3,383.4 665.7,383 667,382.7C668.3,382.4 669.7,382 671,381.7C672.3,381.4 673.7,381.1 675,380.7C676.3,380.4 677.7,380.1 679,379.8C680.3,379.5 681.7,379.2 683,378.9C684.3,378.6 685.7,378.4 687,378.1C688.3,377.8 689.7,377.5 691,377.2C692.3,377 693.7,376.7 695,376.4C696.3,376.2 697.7,375.9 699,375.6C700.3,375.4 701.7,375.1 703,374.9C704.3,374.6 705.7,374.4 707,374.1C708.3,373.9 709.7,373.6 711,373.4C712.3,373.1 713.7,372.9 715,372.6C716.3,372.4 717.7,372.2 719,371.9C720.3,371.7 721.7,371.4 723,371.2C724.3,371 725.7,370.7 727,370.5C728.3,370.3 729.7,370 731,369.8C732.3,369.6 733.7,369.3 735,369.1C736.3,368.8 737.7,368.6 739,368.4C740.3,368.1 741.7,367.9 743,367.6C744.3,367.4 745.7,367.1 747,366.9C748.3,366.6 749.7,366.4 751,366.1C752.3,365.9 753.7,365.6 755,365.3C756.3,365.1 757.7,364.8 759,364.5C760.3,364.2 761.7,364 763,363.7C764.3,363.4 765.7,363.1 767,362.8C768.3,362.5 769.7,362.2 771,361.8C772.3,361.5 773.7,361.2 775,360.8C776.3,360.5 777.7,360.2 779,359.8C780.3,359.5 781.7,359.1 783,358.7C784.3,358.3 785.7,357.9 787,357.5C788.3,357.2 789.7,356.7 791,356.3C792.3,355.9 793.7,355.5 795,355C796.3,354.6 797.7,354.1 799,353.6C800.3,353.2 801.7,352.7 803,352.2C804.3,351.7 805.7,351.2 807,350.6C808.3,350.1 809.7,349.6 811,349C812.3,348.5 813.7,347.9 815,347.3C816.3,346.7 818,345.9 819,345.5C820,345 820.4,344.8 820.7,344.7" stroke="#0000ff"/>
<path d="M555.3,495.6C556,494.6 558,491.5 559.3,489.7C560.6,487.8 562,486 563.3,484.4C564.6,482.7 566,481.1 567.3,479.6C568.6,478.1 570,476.7 571.3,475.3C572.6,473.9 574,472.6 575.3,471.4C576.6,470.1 578,468.9 579.3,467.8C580.6,466.6 582,465.5 583.3,464.4C584.6,463.3 586,462.3 587.3,461.3C588.6,460.2 590,459.2 591.3,458.2C592.6,457.2 594,456.2 595.3,455.2C596.6,454.2 598,453.2 599.3,452.3C600.6,451.3 602,450.3 603.3,449.3C604.6,448.3 606,447.4 607.3,446.4C608.6,445.4 610,444.5 611.3,443.5C612.6,442.5 614,441.6 615.3,440.6C616.6,439.7 618,438.7 619.3,437.8C620.6,436.8 622,435.9 623.3,435C624.6,434 626,433.1 627.3,432.2C628.6,431.2 630,430.3 631.3,429.4C632.6,428.5 634,427.6 635.3,426.6C636.6,425.7 638,424.8 639.3,423.9C640.6,423 642,422.1 643.3,421.2C644.6,420.3 646,419.4 647.3,418.5C648.6,417.6 650,416.7 651.3,415.8C652.6,414.9 654,414.1 655.3,413.2C656.6,412.3 658,411.5 659.3,410.6C660.6,409.8 662,408.9 663.3,408.1C664.6,407.3 666,406.4 667.3,405.6C668.6,404.8 670,404 671.3,403.2C672.6,402.4 674,401.6 675.3,400.9C676.6,400.1 678,399.4 679.3,398.6C680.6,397.9 682,397.1 683.3,396.4C684.6,395.7 686,395 687.3,394.3C688.6,393.7 690,393 691.3,392.4C692.6,391.7 694,391.1 695.3,390.5C696.6,389.9 698,389.3 699.3,388.7C700.6,388.1 702,387.6 703.3,387C704.6,386.5 706,386 707.3,385.5C708.6,385 710,384.5 711.3,384.1C712.6,383.6 714,383.2 715.3,382.7C716.6,382.3 718,381.9 719.3,381.5C720.6,381.1 722,380.7 723.3,380.3C724.6,379.9 726,379.6 727.3,379.2C728.6,378.8 730,378.4 731.3,378C732.6,377.7 734,377.3 735.3,376.9C736.6,376.5 738,376.1 739.3,375.7C740.6,375.3 742,374.8 743.3,374.4C744.6,374 746,373.5 747.3,373.1C748.6,372.6 750,372.1 751.3,371.6C752.6,371.1 754,370.5 755.3,370C756.6,369.4 758,368.8 759.3,368.2C760.6,367.6 762,366.9 763.3,366.3C764.6,365.6 766.3,364.7 767.3,364.1C768.3,363.5 769.1,363 769.5,362.8" stroke="#0078ff"/>
<path d="M491.3,513.8C492,513.5 494,512.8 495.3,512.3C496.6,511.7 498,511.3 499.3,510.8C500.6,510.3 502,509.8 503.3,509.3C504.6,508.8 506,508.4 507.3,507.9C508.6,507.4 510,506.9 511.3,506.5C512.6,506 514,505.5 515.3,505.1C516.6,504.6 518,504.1 519.3,503.7C520.6,503.2 522,502.7 523.3,502.3C524.6,501.8 526,501.3 527.3,500.9C528.6,500.4 530,499.9 531.3,499.4C532.6,499 534,498.5 535.3,498C536.6,497.5 538,497 539.3,496.5C540.6,496 542,495.5 543.3,495C544.6,494.5 546,494 547.3,493.4C548.6,492.9 550,492.4 551.3,491.8C552.6,491.3 554,490.7 555.3,490.2C556.6,489.6 558,489 559.3,488.4C560.6,487.8 562,487.3 563.3,486.6C564.6,486 566,485.4 567.3,484.8C568.6,484.1 570,483.5 571.3,482.8C572.6,482.2 574,481.5 575.3,480.8C576.6,480.1 578,479.5 579.3,478.8C580.6,478.1 582,477.4 583.3,476.6C584.6,475.9 586,475.2 587.3,474.5C588.6,473.8 590,473 591.3,472.3C592.6,471.5 594,470.8 595.3,470.1C596.6,469.3 598,468.6 599.3,467.8C600.6,467.1 602,466.3 603.3,465.5C604.6,464.8 606,464 607.3,463.3C608.6,462.5 610,461.7 611.3,461C612.6,460.2 614,459.5 615.3,458.7C616.6,457.9 618,457.2 619.3,456.4C620.6,455.7 622,454.9 623.3,454.2C624.6,453.4 626,452.7 627.3,451.9C628.6,451.2 630,450.5 631.3,449.7C632.6,449 634,448.3 635.3,447.6C636.6,446.9 638,446.1 639.3,445.4C640.6,444.7 642,444.1 643.3,443.4C644.6,442.7 646,442 647.3,441.4C648.6,440.7 650,440 651.3,439.4C652.6,438.8 654,438.1 655.3,437.5C656.6,436.9 658,436.3 659.3,435.7C660.6,435.2 662,434.6 663.3,434C664.6,433.5 666,432.9 667.3,432.4C668.6,431.9 670,431.4 671.3,430.9C672.6,430.5 674,430 675.3,429.6C676.6,429.1 678,428.7 679.3,428.3C680.6,427.9 682,427.6 683.3,427.2C684.6,426.9 686,426.6 687.3,426.3C688.6,426 690,425.7 691.3,425.5C692.6,425.2 694,425 695.3,424.8C696.6,424.6 698,424.5 699.3,424.3C700.6,424.2 702,424.1 703.3,424C704.6,423.9 706,423.9 707.3,423.8C708.6,423.8 710,423.8 711.3,423.8C712.6,423.8 714,423.9 715.3,423.9C716.6,424 718,424.1 719.3,424.2C720.6,424.3 722,424.5 723.3,424.6C724.6,424.8 726,424.9 727.3,425.1C728.6,425.3 730,425.6 731.3,425.8C732.6,426 734,426.3 735.3,426.6C736.6,426.9 738,427.2 739.3,427.5C740.6,427.8 742,428.1 743.3,428.5C744.6,428.8 746,429.2 747.3,429.6C748.6,430 750,430.4 751.3,430.8C752.6,431.2 754,431.6 755.3,432C756.6,432.5 758,432.9 759.3,433.3C760.6,433.8 762,434.2 763.3,434.7C764.6,435.2 766,435.6 767.3,436.1C768.6,436.6 770,437 771.3,437.5C772.6,438 774,438.5 775.3,438.9C776.6,439.4 778,439.9 779.3,440.4C780.6,440.8 782,441.3 783.3,441.8C784.6,442.3 786,442.7 787.3,443.2C788.6,443.6 790,444.1 791.3,444.5C792.6,445 794,445.4 795.3,445.8C796.6,446.2 798,446.6 799.3,447C800.6,447.4 802,447.8 803.3,448.2C804.6,448.6 806,448.9 807.3,449.3C808.6,449.6 810,449.9 811.3,450.2C812.6,450.5 814,450.8 815.3,451.1C816.6,451.4 818.4,451.7 819.3,451.8C820.2,452 820.5,452 820.7,452.1" stroke="#00eeff"/>
<path d="M627.3,410.6C628,410.1 630,408.8 631.3,407.9C632.6,407 634,406.2 635.3,405.3C636.6,404.5 638,403.7 639.3,402.8C640.6,402 642,401.2 643.3,400.4C644.6,399.6 646,398.9 647.3,398.1C648.6,397.3 650,396.6 651.3,395.9C652.6,395.1 654,394.4 655.3,393.7C656.6,393 658,392.2 659.3,391.6C660.6,390.9 662,390.2 663.3,389.5C664.6,388.8 666,388.2 667.3,387.5C668.6,386.8 670,386.2 671.3,385.5C672.6,384.9 674,384.3 675.3,383.6C676.6,383 678,382.4 679.3,381.8C680.6,381.2 682,380.6 683.3,380C684.6,379.4 686,378.8 687.3,378.2C688.6,377.6 690,377 691.3,376.4C692.6,375.9 694,375.3 695.3,374.7C696.6,374.1 698,373.6 699.3,373C700.6,372.4 702,371.9 703.3,371.3C704.6,370.7 706,370.2 707.3,369.6C708.6,369 710,368.5 711.3,367.9C712.6,367.4 714,366.8 715.3,366.2C716.6,365.6 718,365.1 719.3,364.5C720.6,363.9 722,363.3 723.3,362.8C724.6,362.2 726,361.6 727.3,361C728.6,360.4 730,359.8 731.3,359.2C732.6,358.5 734,357.9 735.3,357.3C736.6,356.7 738,356 739.3,355.4C740.6,354.7 742,354 743.3,353.4C744.6,352.7 746,352 747.3,351.3C748.6,350.6 750,349.8 751.3,349.1C752.6,348.4 754,347.6 755.3,346.8C756.6,346.1 758,345.3 759.3,344.5C760.6,343.7 762,342.8 763.3,342C764.6,341.1 766,340.3 767.3,339.4C768.6,338.5 770,337.5 771.3,336.6C772.6,335.7 774,334.7 775.3,333.7C776.6,332.7 778,331.7 779.3,330.6C780.6,329.6 782,328.5 783.3,327.4C784.6,326.3 786,325.2 787.3,324C788.6,322.8 790,321.7 791.3,320.4C792.6,319.2 794,317.9 795.3,316.6C796.6,315.4 798,314 799.3,312.7C800.6,311.3 802,309.9 803.3,308.5C804.6,307 806,305.6 807.3,304C808.6,302.5 810,301 811.3,299.4C812.6,297.8 814,296.2 815.3,294.5C816.6,292.8 818.4,290.5 819.3,289.3C820.2,288.2 820.5,287.8 820.7,287.5" stroke="#18fc78"/>
<path d="M627.3,410.3C628,410 630,409 631.3,408.4C632.6,407.7 634,407.1 635.3,406.5C636.6,405.8 638,405.2 639.3,404.6C640.6,404 642,403.4 643.3,402.8C644.6,402.2 646,401.6 647.3,401C648.6,400.4 650,399.8 651.3,399.2C652.6,398.6 654,398 655.3,397.5C656.6,396.9 658,396.3 659.3,395.7C660.6,395.1 662,394.6 663.3,394C664.6,393.4 666,392.9 667.3,392.3C668.6,391.7 670,391.1 671.3,390.6C672.6,390 674,389.4 675.3,388.8C676.6,388.3 678,387.7 679.3,387.1C680.6,386.5 682,386 683.3,385.4C684.6,384.8 686,384.2 687.3,383.7C688.6,383.1 690,382.5 691.3,381.9C692.6,381.3 694,380.7 695.3,380.1C696.6,379.5 698,378.9 699.3,378.3C700.6,377.7 702,377.1 703.3,376.5C704.6,375.9 706,375.2 707.3,374.6C708.6,374 710,373.3 711.3,372.7C712.6,372.1 714,371.4 715.3,370.7C716.6,370.1 718,369.4 719.3,368.8C720.6,368.1 722,367.4 723.3,366.7C724.6,366 726,365.3 727.3,364.6C728.6,363.9 730,363.2 731.3,362.5C732.6,361.7 734,361 735.3,360.3C736.6,359.5 738,358.8 739.3,358C740.6,357.2 742,356.4 743.3,355.6C744.6,354.8 746,354 747.3,353.2C748.6,352.4 750,351.5 751.3,350.7C752.6,349.8 754,349 755.3,348.1C756.6,347.2 758,346.3 759.3,345.4C760.6,344.5 762,343.6 763.3,342.6C764.6,341.7 766,340.7 767.3,339.7C768.6,338.7 770,337.7 771.3,336.7C772.6,335.7 774,334.7 775.3,333.6C776.6,332.5 778,331.4 779.3,330.3C780.6,329.2 782,328.1 783.3,327C784.6,325.8 786,324.6 787.3,323.5C788.6,322.3 790,321 791.3,319.8C792.6,318.6 794,317.3 795.3,316C796.6,314.7 798,313.4 799.3,312.1C800.6,310.7 802,309.4 803.3,308C804.6,306.6 806,305.1 807.3,303.7C808.6,302.2 810,300.8 811.3,299.2C812.6,297.7 814,296.2 815.3,294.6C816.6,293.1 818.4,290.9 819.3,289.8C820.2,288.8 820.5,288.4 820.7,288.1" stroke="#66ff00"/>
<path d="M662.8,435C663.5,434.5 665.5,432.9 666.8,431.8C668.1,430.7 669.5,429.7 670.8,428.6C672.1,427.6 673.5,426.5 674.8,425.5C676.1,424.4 677.5,423.4 678.8,422.3C680.1,421.3 681.5,420.3 682.8,419.2C684.1,418.2 685.5,417.2 686.8,416.1C688.1,415.1 689.5,414.1 690.8,413.1C692.1,412 693.5,411 694.8,410C696.1,409 697.5,408 698.8,407C700.1,405.9 701.5,404.9 702.8,403.9C704.1,402.9 705.5,401.9 706.8,400.9C708.1,399.9 709.5,398.9 710.8,397.9C712.1,396.9 713.5,395.9 714.8,394.9C716.1,393.9 717.5,392.9 718.8,391.9C720.1,390.9 721.5,389.9 722.8,388.9C724.1,388 725.5,387 726.8,386C728.1,385 729.5,384 730.8,383C732.1,382 733.5,381 734.8,380.1C736.1,379.1 737.5,378.1 738.8,377.1C740.1,376.1 741.5,375.1 742.8,374.1C744.1,373.2 745.5,372.2 746.8,371.2C748.1,370.2 749.5,369.2 750.8,368.2C752.1,367.2 753.5,366.2 754.8,365.2C756.1,364.2 757.5,363.2 758.8,362.2C760.1,361.2 761.5,360.2 762.8,359.1C764.1,358.1 765.5,357.1 766.8,356.1C768.1,355 769.5,354 770.8,352.9C772.1,351.9 773.5,350.8 774.8,349.8C776.1,348.7 777.5,347.6 778.8,346.6C780.1,345.5 781.5,344.4 782.8,343.3C784.1,342.2 785.5,341.1 786.8,340C788.1,338.8 789.5,337.7 790.8,336.6C792.1,335.4 793.5,334.2 794.8,333.1C796.1,331.9 797.5,330.7 798.8,329.5C800.1,328.3 801.5,327.1 802.8,325.9C804.1,324.7 806.1,322.8 806.8,322.1" stroke="#eaff20"/>
<path d="M662.8,443.7C663.5,443.1 665.5,441.4 666.8,440.3C668.1,439.2 669.5,438.2 670.8,437.1C672.1,436.1 673.5,435 674.8,434C676.1,433 677.5,432.1 678.8,431.1C680.1,430.2 681.5,429.2 682.8,428.3C684.1,427.4 685.5,426.5 686.8,425.6C688.1,424.7 689.5,423.9 690.8,423C692.1,422.2 693.5,421.4 694.8,420.5C696.1,419.7 697.5,418.9 698.8,418.1C700.1,417.4 701.5,416.6 702.8,415.8C704.1,415.1 705.5,414.3 706.8,413.6C708.1,412.8 709.5,412.1 710.8,411.4C712.1,410.6 713.5,409.9 714.8,409.2C716.1,408.5 717.5,407.8 718.8,407.1C720.1,406.4 721.5,405.7 722.8,405C724.1,404.3 725.5,403.6 726.8,402.9C728.1,402.2 729.5,401.5 730.8,400.8C732.1,400.2 733.5,399.5 734.8,398.8C736.1,398.1 737.5,397.4 738.8,396.7C740.1,396 741.5,395.3 742.8,394.6C744.1,393.9 745.5,393.2 746.8,392.5C748.1,391.7 749.5,391 750.8,390.3C752.1,389.6 753.5,388.8 754.8,388.1C756.1,387.3 757.5,386.5 758.8,385.8C760.1,385 761.5,384.2 762.8,383.4C764.1,382.6 765.5,381.8 766.8,381C768.1,380.2 769.5,379.3 770.8,378.5C772.1,377.6 773.5,376.7 774.8,375.8C776.1,375 777.5,374 778.8,373.1C780.1,372.2 781.5,371.2 782.8,370.3C784.1,369.3 785.5,368.3 786.8,367.3C788.1,366.3 789.5,365.2 790.8,364.2C792.1,363.1 793.5,362 794.8,360.9C796.1,359.8 797.5,358.7 798.8,357.5C800.1,356.3 801.5,355.1 802.8,353.9C804.1,352.7 805.5,351.4 806.8,350.1C808.1,348.9 809.5,347.5 810.8,346.2C812.1,344.8 813.5,343.5 814.8,342C816.1,340.6 817.8,338.8 818.8,337.7C819.8,336.6 820.4,335.9 820.7,335.6" stroke="#ff9800"/>
</g>
<path d="M128.04,515.2 L128.04,521.5 M146.82,515.2 L146.82,521.5 M160.14,515.2 L160.14,521.5 M170.47,515.2 L170.47,521.5 M178.91,515.2 L178.91,521.5 M186.05,515.2 L186.05,521.5 M192.24,515.2 L192.24,521.5 M197.69,515.2 L197.69,521.5 M202.57,515.2 L202.57,524.3 M234.67,515.2 L234.67,521.5 M253.45,515.2 L253.45,521.5 M266.77,515.2 L266.77,521.5 M277.1,515.2 L277.1,521.5 M285.54,515.2 L285.54,521.5 M292.68,515.2 L292.68,521.5 M298.87,515.2 L298.87,521.5 M304.32,515.2 L304.32,521.5 M309.2,515.2 L309.2,524.3 M341.3,515.2 L341.3,521.5 M360.08,515.2 L360.08,521.5 M373.4,515.2 L373.4,521.5 M383.73,515.2 L383.73,521.5 M392.17,515.2 L392.17,521.5 M399.31,515.2 L399.31,521.5 M405.5,515.2 L405.5,521.5 M410.95,515.2 L410.95,521.5 M415.83,515.2 L415.83,524.3 M447.93,515.2 L447.93,521.5 M466.71,515.2 L466.71,521.5 M480.03,515.2 L480.03,521.5 M490.36,515.2 L490.36,521.5 M498.8,515.2 L498.8,521.5 M505.94,515.2 L505.94,521.5 M512.13,515.2 L512.13,521.5 M517.58,515.2 L517.58,521.5 M522.46,515.2 L522.46,524.3 M554.56,515.2 L554.56,521.5 M573.34,515.2 L573.34,521.5 M586.66,515.2 L586.66,521.5 M596.99,515.2 L596.99,521.5 M605.43,515.2 L605.43,521.5 M612.57,515.2 L612.57,521.5 M618.76,515.2 L618.76,521.5 M624.21,515.2 L624.21,521.5 M629.09,515.2 L629.09,524.3 M661.19,515.2 L661.19,521.5 M679.97,515.2 L679.97,521.5 M693.29,515.2 L693.29,521.5 M703.62,515.2 L703.62,521.5 M712.06,515.2 L712.06,521.5 M719.2,515.2 L719.2,521.5 M725.39,515.2 L725.39,521.5 M730.84,515.2 L730.84,521.5 M735.72,515.2 L735.72,524.3 M767.82,515.2 L767.82,521.5 M786.6,515.2 L786.6,521.5 M799.92,515.2 L799.92,521.5 M810.25,515.2 L810.25,521.5 M818.69,515.2 L818.69,521.5 M108.05,59.7 L108.05,53.4 M124.92,59.7 L124.92,53.4 M139.19,59.7 L139.19,53.4 M151.55,59.7 L151.55,53.4 M162.45,59.7 L162.45,53.4 M172.2,59.7 L172.2,50.6 M236.35,59.7 L236.35,53.4 M273.87,59.7 L273.87,53.4 M300.5,59.7 L300.5,53.4 M321.15,59.7 L321.15,53.4 M338.02,59.7 L338.02,53.4 M352.29,59.7 L352.29,53.4 M364.65,59.7 L364.65,53.4 M375.55,59.7 L375.55,53.4 M385.3,59.7 L385.3,50.6 M449.45,59.7 L449.45,53.4 M486.97,59.7 L486.97,53.4 M513.6,59.7 L513.6,53.4 M534.25,59.7 L534.25,53.4 M551.12,59.7 L551.12,53.4 M565.39,59.7 L565.39,53.4 M577.75,59.7 L577.75,53.4 M588.65,59.7 L588.65,53.4 M598.4,59.7 L598.4,50.6 M662.55,59.7 L662.55,53.4 M700.07,59.7 L700.07,53.4 M726.7,59.7 L726.7,53.4 M747.35,59.7 L747.35,53.4 M764.22,59.7 L764.22,53.4 M778.49,59.7 L778.49,53.4 M790.85,59.7 L790.85,53.4 M801.75,59.7 L801.75,53.4 M811.5,59.7 L811.5,50.6 M104.6,283.31 L98.3,283.31 M821.05,283.31 L827.35,283.31 M104.6,280.57 L98.3,280.57 M821.05,280.57 L827.35,280.57 M104.6,278.45 L98.3,278.45 M821.05,278.45 L827.35,278.45 M104.6,276.72 L98.3,276.72 M821.05,276.72 L827.35,276.72 M104.6,275.26 L98.3,275.26 M821.05,275.26 L827.35,275.26 M104.6,273.99 L98.3,273.99 M821.05,273.99 L827.35,273.99 M104.6,272.87 L98.3,272.87 M821.05,272.87 L827.35,272.87 M104.6,271.87 L95.5,271.87 M821.05,271.87 L830.15,271.87 M104.6,265.29 L98.3,265.29 M821.05,265.29 L827.35,265.29 M104.6,261.44 L98.3,261.44 M821.05,261.44 L827.35,261.44 M104.6,258.7 L98.3,258.7 M821.05,258.7 L827.35,258.7 M104.6,256.58 L98.3,256.58 M821.05,256.58 L827.35,256.58 M104.6,254.85 L98.3,254.85 M821.05,254.85 L827.35,254.85 M104.6,253.39 L98.3,253.39 M821.05,253.39 L827.35,253.39 M104.6,252.12 L98.3,252.12 M821.05,252.12 L827.35,252.12 M104.6,251 L98.3,251 M821.05,251 L827.35,251 M104.6,250 L95.5,250 M821.05,250 L830.15,250 M104.6,243.42 L98.3,243.42 M821.05,243.42 L827.35,243.42 M104.6,239.57 L98.3,239.57 M821.05,239.57 L827.35,239.57 M104.6,236.83 L98.3,236.83 M821.05,236.83 L827.35,236.83 M104.6,234.71 L98.3,234.71 M821.05,234.71 L827.35,234.71 M104.6,232.98 L98.3,232.98 M821.05,232.98 L827.35,232.98 M104.6,231.52 L98.3,231.52 M821.05,231.52 L827.35,231.52 M104.6,230.25 L98.3,230.25 M821.05,230.25 L827.35,230.25 M104.6,229.13 L98.3,229.13 M821.05,229.13 L827.35,229.13 M104.6,228.13 L95.5,228.13 M821.05,228.13 L830.15,228.13 M104.6,221.55 L98.3,221.55 M821.05,221.55 L827.35,221.55 M104.6,217.7 L98.3,217.7 M821.05,217.7 L827.35,217.7 M104.6,214.96 L98.3,214.96 M821.05,214.96 L827.35,214.96 M104.6,212.84 L98.3,212.84 M821.05,212.84 L827.35,212.84 M104.6,211.11 L98.3,211.11 M821.05,211.11 L827.35,211.11 M104.6,209.65 L98.3,209.65 M821.05,209.65 L827.35,209.65 M104.6,208.38 L98.3,208.38 M821.05,208.38 L827.35,208.38 M104.6,207.26 L98.3,207.26 M821.05,207.26 L827.35,207.26 M104.6,206.26 L95.5,206.26 M821.05,206.26 L830.15,206.26 M104.6,199.68 L98.3,199.68 M821.05,199.68 L827.35,199.68 M104.6,195.83 L98.3,195.83 M821.05,195.83 L827.35,195.83 M104.6,193.09 L98.3,193.09 M821.05,193.09 L827.35,193.09 M104.6,190.97 L98.3,190.97 M821.05,190.97 L827.35,190.97 M104.6,189.24 L98.3,189.24 M821.05,189.24 L827.35,189.24 M104.6,187.78 L98.3,187.78 M821.05,187.78 L827.35,187.78 M104.6,186.51 L98.3,186.51 M821.05,186.51 L827.35,186.51 M104.6,185.39 L98.3,185.39 M821.05,185.39 L827.35,185.39 M104.6,184.39 L95.5,184.39 M821.05,184.39 L830.15,184.39 M104.6,177.81 L98.3,177.81 M821.05,177.81 L827.35,177.81 M104.6,173.96 L98.3,173.96 M821.05,173.96 L827.35,173.96 M104.6,171.22 L98.3,171.22 M821.05,171.22 L827.35,171.22 M104.6,169.1 L98.3,169.1 M821.05,169.1 L827.35,169.1 M104.6,167.37 L98.3,167.37 M821.05,167.37 L827.35,167.37 M104.6,165.91 L98.3,165.91 M821.05,165.91 L827.35,165.91 M104.6,164.64 L98.3,164.64 M821.05,164.64 L827.35,164.64 M104.6,163.52 L98.3,163.52 M821.05,163.52 L827.35,163.52 M104.6,162.52 L95.5,162.52 M821.05,162.52 L830.15,162.52 M104.6,155.94 L98.3,155.94 M821.05,155.94 L827.35,155.94 M104.6,152.09 L98.3,152.09 M821.05,152.09 L827.35,152.09 M104.6,149.35 L98.3,149.35 M821.05,149.35 L827.35,149.35 M104.6,147.23 L98.3,147.23 M821.05,147.23 L827.35,147.23 M104.6,145.5 L98.3,145.5 M821.05,145.5 L827.35,145.5 M104.6,144.04 L98.3,144.04 M821.05,144.04 L827.35,144.04 M104.6,142.77 L98.3,142.77 M821.05,142.77 L827.35,142.77 M104.6,141.65 L98.3,141.65 M821.05,141.65 L827.35,141.65 M104.6,140.65 L95.5,140.65 M821.05,140.65 L830.15,140.65 M104.6,134.07 L98.3,134.07 M821.05,134.07 L827.35,134.07 M104.6,130.22 L98.3,130.22 M821.05,130.22 L827.35,130.22 M104.6,127.48 L98.3,127.48 M821.05,127.48 L827.35,127.48 M104.6,125.36 L98.3,125.36 M821.05,125.36 L827.35,125.36 M104.6,123.63 L98.3,123.63 M821.05,123.63 L827.35,123.63 M104.6,122.17 L98.3,122.17 M821.05,122.17 L827.35,122.17 M104.6,120.9 L98.3,120.9 M821.05,120.9 L827.35,120.9 M104.6,119.78 L98.3,119.78 M821.05,119.78 L827.35,119.78 M104.6,118.78 L95.5,118.78 M821.05,118.78 L830.15,118.78 M104.6,112.2 L98.3,112.2 M821.05,112.2 L827.35,112.2 M104.6,108.35 L98.3,108.35 M821.05,108.35 L827.35,108.35 M104.6,105.61 L98.3,105.61 M821.05,105.61 L827.35,105.61 M104.6,103.49 L98.3,103.49 M821.05,103.49 L827.35,103.49 M104.6,101.76 L98.3,101.76 M821.05,101.76 L827.35,101.76 M104.6,100.3 L98.3,100.3 M821.05,100.3 L827.35,100.3 M104.6,99.03 L98.3,99.03 M821.05,99.03 L827.35,99.03 M104.6,97.91 L98.3,97.91 M821.05,97.91 L827.35,97.91 M104.6,96.91 L95.5,96.91 M821.05,96.91 L830.15,96.91 M104.6,90.33 L98.3,90.33 M821.05,90.33 L827.35,90.33 M104.6,86.48 L98.3,86.48 M821.05,86.48 L827.35,86.48 M104.6,83.74 L98.3,83.74 M821.05,83.74 L827.35,83.74 M104.6,81.62 L98.3,81.62 M821.05,81.62 L827.35,81.62 M104.6,79.89 L98.3,79.89 M821.05,79.89 L827.35,79.89 M104.6,78.43 L98.3,78.43 M821.05,78.43 L827.35,78.43 M104.6,77.16 L98.3,77.16 M821.05,77.16 L827.35,77.16 M104.6,76.04 L98.3,76.04 M821.05,76.04 L827.35,76.04 M104.6,75.04 L95.5,75.04 M821.05,75.04 L830.15,75.04 M104.6,68.46 L98.3,68.46 M821.05,68.46 L827.35,68.46 M104.6,64.61 L98.3,64.61 M821.05,64.61 L827.35,64.61 M104.6,61.87 L98.3,61.87 M821.05,61.87 L827.35,61.87 M104.6,511.92 L98.3,511.92 M821.05,511.92 L827.35,511.92 M104.6,508.4 L98.3,508.4 M821.05,508.4 L827.35,508.4 M104.6,505.9 L98.3,505.9 M821.05,505.9 L827.35,505.9 M104.6,503.96 L98.3,503.96 M821.05,503.96 L827.35,503.96 M104.6,502.38 L98.3,502.38 M821.05,502.38 L827.35,502.38 M104.6,501.04 L98.3,501.04 M821.05,501.04 L827.35,501.04 M104.6,499.88 L98.3,499.88 M821.05,499.88 L827.35,499.88 M104.6,498.86 L98.3,498.86 M821.05,498.86 L827.35,498.86 M104.6,497.94 L95.5,497.94 M821.05,497.94 L830.15,497.94 M104.6,491.92 L98.3,491.92 M821.05,491.92 L827.35,491.92 M104.6,488.4 L98.3,488.4 M821.05,488.4 L827.35,488.4 M104.6,485.9 L98.3,485.9 M821.05,485.9 L827.35,485.9 M104.6,483.96 L98.3,483.96 M821.05,483.96 L827.35,483.96 M104.6,482.38 L98.3,482.38 M821.05,482.38 L827.35,482.38 M104.6,481.04 L98.3,481.04 M821.05,481.04 L827.35,481.04 M104.6,479.88 L98.3,479.88 M821.05,479.88 L827.35,479.88 M104.6,478.86 L98.3,478.86 M821.05,478.86 L827.35,478.86 M104.6,477.94 L95.5,477.94 M821.05,477.94 L830.15,477.94 M104.6,471.92 L98.3,471.92 M821.05,471.92 L827.35,471.92 M104.6,468.4 L98.3,468.4 M821.05,468.4 L827.35,468.4 M104.6,465.9 L98.3,465.9 M821.05,465.9 L827.35,465.9 M104.6,463.96 L98.3,463.96 M821.05,463.96 L827.35,463.96 M104.6,462.38 L98.3,462.38 M821.05,462.38 L827.35,462.38 M104.6,461.04 L98.3,461.04 M821.05,461.04 L827.35,461.04 M104.6,459.88 L98.3,459.88 M821.05,459.88 L827.35,459.88 M104.6,458.86 L98.3,458.86 M821.05,458.86 L827.35,458.86 M104.6,457.94 L95.5,457.94 M821.05,457.94 L830.15,457.94 M104.6,451.92 L98.3,451.92 M821.05,451.92 L827.35,451.92 M104.6,448.4 L98.3,448.4 M821.05,448.4 L827.35,448.4 M104.6,445.9 L98.3,445.9 M821.05,445.9 L827.35,445.9 M104.6,443.96 L98.3,443.96 M821.05,443.96 L827.35,443.96 M104.6,442.38 L98.3,442.38 M821.05,442.38 L827.35,442.38 M104.6,441.04 L98.3,441.04 M821.05,441.04 L827.35,441.04 M104.6,439.88 L98.3,439.88 M821.05,439.88 L827.35,439.88 M104.6,438.86 L98.3,438.86 M821.05,438.86 L827.35,438.86 M104.6,437.94 L95.5,437.94 M821.05,437.94 L830.15,437.94 M104.6,431.92 L98.3,431.92 M821.05,431.92 L827.35,431.92 M104.6,428.4 L98.3,428.4 M821.05,428.4 L827.35,428.4 M104.6,425.9 L98.3,425.9 M821.05,425.9 L827.35,425.9 M104.6,423.96 L98.3,423.96 M821.05,423.96 L827.35,423.96 M104.6,422.38 L98.3,422.38 M821.05,422.38 L827.35,422.38 M104.6,421.04 L98.3,421.04 M821.05,421.04 L827.35,421.04 M104.6,419.88 L98.3,419.88 M821.05,419.88 L827.35,419.88 M104.6,418.86 L98.3,418.86 M821.05,418.86 L827.35,418.86 M104.6,417.94 L95.5,417.94 M821.05,417.94 L830.15,417.94 M104.6,411.92 L98.3,411.92 M821.05,411.92 L827.35,411.92 M104.6,408.4 L98.3,408.4 M821.05,408.4 L827.35,408.4 M104.6,405.9 L98.3,405.9 M821.05,405.9 L827.35,405.9 M104.6,403.96 L98.3,403.96 M821.05,403.96 L827.35,403.96 M104.6,402.38 L98.3,402.38 M821.05,402.38 L827.35,402.38 M104.6,401.04 L98.3,401.04 M821.05,401.04 L827.35,401.04 M104.6,399.88 L98.3,399.88 M821.05,399.88 L827.35,399.88 M104.6,398.86 L98.3,398.86 M821.05,398.86 L827.35,398.86 M104.6,397.94 L95.5,397.94 M821.05,397.94 L830.15,397.94 M104.6,391.92 L98.3,391.92 M821.05,391.92 L827.35,391.92 M104.6,388.4 L98.3,388.4 M821.05,388.4 L827.35,388.4 M104.6,385.9 L98.3,385.9 M821.05,385.9 L827.35,385.9 M104.6,383.96 L98.3,383.96 M821.05,383.96 L827.35,383.96 M104.6,382.38 L98.3,382.38 M821.05,382.38 L827.35,382.38 M104.6,381.04 L98.3,381.04 M821.05,381.04 L827.35,381.04 M104.6,379.88 L98.3,379.88 M821.05,379.88 L827.35,379.88 M104.6,378.86 L98.3,378.86 M821.05,378.86 L827.35,378.86 M104.6,377.94 L95.5,377.94 M821.05,377.94 L830.15,377.94 M104.6,371.92 L98.3,371.92 M821.05,371.92 L827.35,371.92 M104.6,368.4 L98.3,368.4 M821.05,368.4 L827.35,368.4 M104.6,365.9 L98.3,365.9 M821.05,365.9 L827.35,365.9 M104.6,363.96 L98.3,363.96 M821.05,363.96 L827.35,363.96 M104.6,362.38 L98.3,362.38 M821.05,362.38 L827.35,362.38 M104.6,361.04 L98.3,361.04 M821.05,361.04 L827.35,361.04 M104.6,359.88 L98.3,359.88 M821.05,359.88 L827.35,359.88 M104.6,358.86 L98.3,358.86 M821.05,358.86 L827.35,358.86 M104.6,357.94 L95.5,357.94 M821.05,357.94 L830.15,357.94 M104.6,351.92 L98.3,351.92 M821.05,351.92 L827.35,351.92 M104.6,348.4 L98.3,348.4 M821.05,348.4 L827.35,348.4 M104.6,345.9 L98.3,345.9 M821.05,345.9 L827.35,345.9 M104.6,343.96 L98.3,343.96 M821.05,343.96 L827.35,343.96 M104.6,342.38 L98.3,342.38 M821.05,342.38 L827.35,342.38 M104.6,341.04 L98.3,341.04 M821.05,341.04 L827.35,341.04 M104.6,339.88 L98.3,339.88 M821.05,339.88 L827.35,339.88 M104.6,338.86 L98.3,338.86 M821.05,338.86 L827.35,338.86 M104.6,337.94 L95.5,337.94 M821.05,337.94 L830.15,337.94 M104.6,331.92 L98.3,331.92 M821.05,331.92 L827.35,331.92 M104.6,328.4 L98.3,328.4 M821.05,328.4 L827.35,328.4 M104.6,325.9 L98.3,325.9 M821.05,325.9 L827.35,325.9 M104.6,323.96 L98.3,323.96 M821.05,323.96 L827.35,323.96 M104.6,322.38 L98.3,322.38 M821.05,322.38 L827.35,322.38 M104.6,321.04 L98.3,321.04 M821.05,321.04 L827.35,321.04 M104.6,319.88 L98.3,319.88 M821.05,319.88 L827.35,319.88 M104.6,318.86 L98.3,318.86 M821.05,318.86 L827.35,318.86 M104.6,317.94 L95.5,317.94 M821.05,317.94 L830.15,317.94 M104.6,311.92 L98.3,311.92 M821.05,311.92 L827.35,311.92 M104.6,308.4 L98.3,308.4 M821.05,308.4 L827.35,308.4 M104.6,305.9 L98.3,305.9 M821.05,305.9 L827.35,305.9 M104.6,303.96 L98.3,303.96 M821.05,303.96 L827.35,303.96 M104.6,302.38 L98.3,302.38 M821.05,302.38 L827.35,302.38 M104.6,301.04 L98.3,301.04 M821.05,301.04 L827.35,301.04 M104.6,299.88 L98.3,299.88 M821.05,299.88 L827.35,299.88 M104.6,298.86 L98.3,298.86 M821.05,298.86 L827.35,298.86 M104.6,297.94 L95.5,297.94 M821.05,297.94 L830.15,297.94 M104.6,291.92 L98.3,291.92 M821.05,291.92 L827.35,291.92 M104.6,288.4 L98.3,288.4 M821.05,288.4 L827.35,288.4" stroke="#000" stroke-width="1.65" fill="none"/>
<g font-family="'Liberation Serif', serif" font-weight="bold" fill="#000">
<text transform="translate(34.82,83.04) scale(1.04,1)" font-size="25" letter-spacing="1">10</text>
<text y="71.64" font-size="15"><tspan x="64.5" stroke="#000" stroke-width="0.5">-</tspan><tspan x="72.2" letter-spacing="1">15</tspan></text>
<text transform="translate(34.82,104.91) scale(1.04,1)" font-size="25" letter-spacing="1">10</text>
<text y="93.51" font-size="15"><tspan x="64.5" stroke="#000" stroke-width="0.5">-</tspan><tspan x="72.2" letter-spacing="1">16</tspan></text>
<text transform="translate(34.82,126.78) scale(1.04,1)" font-size="25" letter-spacing="1">10</text>
<text y="115.38" font-size="15"><tspan x="64.5" stroke="#000" stroke-width="0.5">-</tspan><tspan x="72.2" letter-spacing="1">17</tspan></text>
<text transform="translate(34.82,148.65) scale(1.04,1)" font-size="25" letter-spacing="1">10</text>
<text y="137.25" font-size="15"><tspan x="64.5" stroke="#000" stroke-width="0.5">-</tspan><tspan x="72.2" letter-spacing="1">18</tspan></text>
<text transform="translate(34.82,170.52) scale(1.04,1)" font-size="25" letter-spacing="1">10</text>
<text y="159.12" font-size="15"><tspan x="64.5" stroke="#000" stroke-width="0.5">-</tspan><tspan x="72.2" letter-spacing="1">19</tspan></text>
<text transform="translate(34.82,192.39) scale(1.04,1)" font-size="25" letter-spacing="1">10</text>
<text y="180.99" font-size="15"><tspan x="64.5" stroke="#000" stroke-width="0.5">-</tspan><tspan x="72.2" letter-spacing="1">20</tspan></text>
<text transform="translate(34.82,214.26) scale(1.04,1)" font-size="25" letter-spacing="1">10</text>
<text y="202.86" font-size="15"><tspan x="64.5" stroke="#000" stroke-width="0.5">-</tspan><tspan x="72.2" letter-spacing="1">21</tspan></text>
<text transform="translate(34.82,236.13) scale(1.04,1)" font-size="25" letter-spacing="1">10</text>
<text y="224.73" font-size="15"><tspan x="64.5" stroke="#000" stroke-width="0.5">-</tspan><tspan x="72.2" letter-spacing="1">22</tspan></text>
<text transform="translate(34.82,258) scale(1.04,1)" font-size="25" letter-spacing="1">10</text>
<text y="246.6" font-size="15"><tspan x="64.5" stroke="#000" stroke-width="0.5">-</tspan><tspan x="72.2" letter-spacing="1">23</tspan></text>
<text transform="translate(43.32,325.94) scale(1.04,1)" font-size="25" letter-spacing="1">10</text>
<text x="71.0" y="314.84" font-size="15">3</text>
<text transform="translate(43.32,345.94) scale(1.04,1)" font-size="25" letter-spacing="1">10</text>
<text x="71.0" y="334.84" font-size="15">2</text>
<text transform="translate(43.32,365.94) scale(1.04,1)" font-size="25" letter-spacing="1">10</text>
<text x="71.0" y="354.84" font-size="15">1</text>
<text transform="translate(43.32,385.94) scale(1.04,1)" font-size="25" letter-spacing="1">10</text>
<text x="71.0" y="374.84" font-size="15">0</text>
<text transform="translate(43.32,405.94) scale(1.04,1)" font-size="25" letter-spacing="1">10</text>
<text y="394.84" font-size="15"><tspan x="73.2" stroke="#000" stroke-width="0.5">-</tspan><tspan x="80.6">1</tspan></text>
<text transform="translate(43.32,425.94) scale(1.04,1)" font-size="25" letter-spacing="1">10</text>
<text y="414.84" font-size="15"><tspan x="73.2" stroke="#000" stroke-width="0.5">-</tspan><tspan x="80.6">2</tspan></text>
<text transform="translate(43.32,445.94) scale(1.04,1)" font-size="25" letter-spacing="1">10</text>
<text y="434.84" font-size="15"><tspan x="73.2" stroke="#000" stroke-width="0.5">-</tspan><tspan x="80.6">3</tspan></text>
<text transform="translate(43.32,465.94) scale(1.04,1)" font-size="25" letter-spacing="1">10</text>
<text y="454.84" font-size="15"><tspan x="73.2" stroke="#000" stroke-width="0.5">-</tspan><tspan x="80.6">4</tspan></text>
<text transform="translate(43.32,485.94) scale(1.04,1)" font-size="25" letter-spacing="1">10</text>
<text y="474.84" font-size="15"><tspan x="73.2" stroke="#000" stroke-width="0.5">-</tspan><tspan x="80.6">5</tspan></text>
<text transform="translate(43.32,505.94) scale(1.04,1)" font-size="25" letter-spacing="1">10</text>
<text y="494.84" font-size="15"><tspan x="73.2" stroke="#000" stroke-width="0.5">-</tspan><tspan x="80.6">6</tspan></text>
<text transform="translate(183.89,547.6) scale(1.04,1)" font-size="25" letter-spacing="1">10</text>
<text x="211.97" y="536.6" font-size="15">0</text>
<text transform="translate(290.52,547.6) scale(1.04,1)" font-size="25" letter-spacing="1">10</text>
<text x="318.6" y="536.6" font-size="15">1</text>
<text transform="translate(397.15,547.6) scale(1.04,1)" font-size="25" letter-spacing="1">10</text>
<text x="425.23" y="536.6" font-size="15">2</text>
<text transform="translate(503.78,547.6) scale(1.04,1)" font-size="25" letter-spacing="1">10</text>
<text x="531.86" y="536.6" font-size="15">3</text>
<text transform="translate(610.41,547.6) scale(1.04,1)" font-size="25" letter-spacing="1">10</text>
<text x="638.49" y="536.6" font-size="15">4</text>
<text transform="translate(717.04,547.6) scale(1.04,1)" font-size="25" letter-spacing="1">10</text>
<text x="745.12" y="536.6" font-size="15">5</text>
<text transform="translate(153.92,43.9) scale(1.04,1)" font-size="25" letter-spacing="1">10</text>
<text x="181.8" y="32.8" font-size="15">1</text>
<text transform="translate(367.02,43.9) scale(1.04,1)" font-size="25" letter-spacing="1">10</text>
<text x="394.9" y="32.8" font-size="15">2</text>
<text transform="translate(580.12,43.9) scale(1.04,1)" font-size="25" letter-spacing="1">10</text>
<text x="608" y="32.8" font-size="15">3</text>
<text transform="translate(793.22,43.9) scale(1.04,1)" font-size="25" letter-spacing="1">10</text>
<text x="821.1" y="32.8" font-size="15">4</text>
<text x="511.2" y="56.8" font-size="20" letter-spacing="0.5">437</text>
<text x="415.2" y="16.9" font-size="25" letter-spacing="1.25">v [km/s]</text>
<text x="365.2" y="572.8" font-size="25" letter-spacing="1.15">energy [eV]/amu</text>
<text transform="translate(33.8,429.2) rotate(-90)" font-size="25" letter-spacing="1">ratio</text>
<g transform="translate(21.4,230) rotate(-90)">
<text transform="translate(2.0,1.4) scale(1.2,1)" font-size="25" font-style="italic" font-weight="normal">σ</text>
<text x="20.9" y="6.5" font-size="16.5" font-style="italic" stroke="#000" stroke-width="0.35">c</text>
<text x="29.8" y="6.5" font-size="16.5" font-style="italic" stroke="#000" stroke-width="0.35">x</text>
<text x="48.3" y="0" font-size="25">[</text>
<text x="59.4" y="0" font-size="25">c</text>
<text x="72.4" y="0" font-size="25">m</text>
<text x="92.4" y="-11" font-size="15">2</text>
<text x="101.8" y="0" font-size="25">]</text>
</g>
</g>
<g stroke-width="1.7">
<line x1="120" x2="147.4" y1="108.2" y2="108.2" stroke="#0000ff"/>
<line x1="120" x2="147.4" y1="127.75" y2="127.75" stroke="#0078ff"/>
<line x1="120" x2="147.4" y1="147.3" y2="147.3" stroke="#00eeff"/>
<line x1="120" x2="147.4" y1="166.85" y2="166.85" stroke="#18fc78"/>
<line x1="120" x2="147.4" y1="186.4" y2="186.4" stroke="#66ff00"/>
<line x1="120" x2="147.4" y1="205.95" y2="205.95" stroke="#eaff20"/>
<line x1="120" x2="147.4" y1="225.5" y2="225.5" stroke="#ff9800"/>
</g>
<g font-family="'Liberation Serif', serif" fill="#000" stroke="#000" stroke-width="0.5" stroke-linejoin="round">
<text transform="translate(159.64,114.8) scale(1.07,1)" font-size="20.8" font-style="italic">H</text>
<text transform="translate(177.32,107.3) scale(1.12,1)" font-size="12.2" font-style="normal" stroke-width="0.3">+</text>
<text transform="translate(187.36,114.8) scale(1.07,1)" font-size="20.8" font-style="italic">+</text>
<text transform="translate(203.94,114.8) scale(1.07,1)" font-size="20.8" font-style="italic">He</text>
<text transform="translate(244.54,114.8) scale(1.07,1)" font-size="20.8" font-style="italic">H</text>
<text transform="translate(262.46,114.8) scale(1.07,1)" font-size="20.8" font-style="italic">+</text>
<text transform="translate(278.24,114.8) scale(1.07,1)" font-size="20.8" font-style="italic">He</text>
<text transform="translate(306.82,107.3) scale(1.12,1)" font-size="12.2" font-style="normal" stroke-width="0.3">+</text>
<text transform="translate(159.64,134.35) scale(1.07,1)" font-size="20.8" font-style="italic">H</text>
<text transform="translate(177.32,126.85) scale(1.12,1)" font-size="12.2" font-style="normal" stroke-width="0.3">+</text>
<text transform="translate(187.36,134.35) scale(1.07,1)" font-size="20.8" font-style="italic">+</text>
<text transform="translate(203.94,134.35) scale(1.07,1)" font-size="20.8" font-style="italic">He</text>
<text transform="translate(232.72,126.85) scale(1.12,1)" font-size="12.2" font-style="normal" stroke-width="0.3">+</text>
<text transform="translate(256.24,134.35) scale(1.07,1)" font-size="20.8" font-style="italic">H</text>
<text transform="translate(273.76,134.35) scale(1.07,1)" font-size="20.8" font-style="italic">+</text>
<text transform="translate(289.54,134.35) scale(1.07,1)" font-size="20.8" font-style="italic">He</text>
<text transform="translate(316.86,124.85) scale(1.06,1)" font-size="11.6" font-style="normal" stroke-width="0.3">2</text>
<text transform="translate(324.82,126.85) scale(1.12,1)" font-size="12.2" font-style="normal" stroke-width="0.3">+</text>
<text transform="translate(159.64,153.9) scale(1.07,1)" font-size="20.8" font-style="italic">H</text>
<text transform="translate(177.32,146.4) scale(1.12,1)" font-size="12.2" font-style="normal" stroke-width="0.3">+</text>
<text transform="translate(187.36,153.9) scale(1.07,1)" font-size="20.8" font-style="italic">+</text>
<text transform="translate(203.94,153.9) scale(1.07,1)" font-size="20.8" font-style="italic">He</text>
<text transform="translate(244.54,153.9) scale(1.07,1)" font-size="20.8" font-style="italic">H</text>
<text transform="translate(263.53,144.4) scale(1.12,1)" font-size="9.0" font-style="normal" stroke-width="0.3">-</text>
<text transform="translate(270.56,153.9) scale(1.07,1)" font-size="20.8" font-style="italic">+</text>
<text transform="translate(286.34,153.9) scale(1.07,1)" font-size="20.8" font-style="italic">He</text>
<text transform="translate(313.76,144.4) scale(1.06,1)" font-size="11.6" font-style="normal" stroke-width="0.3">2</text>
<text transform="translate(321.72,146.4) scale(1.12,1)" font-size="12.2" font-style="normal" stroke-width="0.3">+</text>
<text transform="translate(159.64,173.45) scale(1.07,1)" font-size="20.8" font-style="italic">H</text>
<text transform="translate(177.32,165.95) scale(1.12,1)" font-size="12.2" font-style="normal" stroke-width="0.3">+</text>
<text transform="translate(187.36,173.45) scale(1.07,1)" font-size="20.8" font-style="italic">+</text>
<text transform="translate(203.94,173.45) scale(1.07,1)" font-size="20.8" font-style="italic">H</text>
<text transform="translate(234.14,173.45) scale(1.07,1)" font-size="20.8" font-style="italic">H</text>
<text transform="translate(251.62,165.95) scale(1.12,1)" font-size="12.2" font-style="normal" stroke-width="0.3">+</text>
<text transform="translate(262.16,173.45) scale(1.07,1)" font-size="20.8" font-style="italic">+</text>
<text transform="translate(278.74,173.45) scale(1.07,1)" font-size="20.8" font-style="italic">H</text>
<text transform="translate(296.32,165.95) scale(1.12,1)" font-size="12.2" font-style="normal" stroke-width="0.3">+</text>
<text transform="translate(307.36,173.45) scale(1.07,1)" font-size="20.8" font-style="italic">+</text>
<text transform="translate(322.41,173.45) scale(1.07,1)" font-size="20.8" font-style="italic">e</text>
<text transform="translate(159.64,193) scale(1.07,1)" font-size="20.8" font-style="italic">H</text>
<text transform="translate(177.32,185.5) scale(1.12,1)" font-size="12.2" font-style="normal" stroke-width="0.3">+</text>
<text transform="translate(187.36,193) scale(1.07,1)" font-size="20.8" font-style="italic">+</text>
<text transform="translate(203.94,193) scale(1.07,1)" font-size="20.8" font-style="italic">He</text>
<text transform="translate(244.34,193) scale(1.07,1)" font-size="20.8" font-style="italic">H</text>
<text transform="translate(262.22,185.5) scale(1.12,1)" font-size="12.2" font-style="normal" stroke-width="0.3">+</text>
<text transform="translate(272.66,193) scale(1.07,1)" font-size="20.8" font-style="italic">+</text>
<text transform="translate(289.04,193) scale(1.07,1)" font-size="20.8" font-style="italic">He</text>
<text transform="translate(318.72,185.5) scale(1.12,1)" font-size="12.2" font-style="normal" stroke-width="0.3">+</text>
<text transform="translate(328.16,193) scale(1.07,1)" font-size="20.8" font-style="italic">+</text>
<text transform="translate(344.51,193) scale(1.07,1)" font-size="20.8" font-style="italic">e</text>
<text transform="translate(159.64,212.55) scale(1.07,1)" font-size="20.8" font-style="italic">H</text>
<text transform="translate(177.32,205.05) scale(1.12,1)" font-size="12.2" font-style="normal" stroke-width="0.3">+</text>
<text transform="translate(187.36,212.55) scale(1.07,1)" font-size="20.8" font-style="italic">+</text>
<text transform="translate(203.94,212.55) scale(1.07,1)" font-size="20.8" font-style="italic">He</text>
<text transform="translate(232.62,205.05) scale(1.12,1)" font-size="12.2" font-style="normal" stroke-width="0.3">+</text>
<text transform="translate(256.34,212.55) scale(1.07,1)" font-size="20.8" font-style="italic">H</text>
<text transform="translate(273.82,205.05) scale(1.12,1)" font-size="12.2" font-style="normal" stroke-width="0.3">+</text>
<text transform="translate(284.26,212.55) scale(1.07,1)" font-size="20.8" font-style="italic">+</text>
<text transform="translate(300.44,212.55) scale(1.07,1)" font-size="20.8" font-style="italic">He</text>
<text transform="translate(328.46,203.05) scale(1.06,1)" font-size="11.6" font-style="normal" stroke-width="0.3">2</text>
<text transform="translate(335.52,205.05) scale(1.12,1)" font-size="12.2" font-style="normal" stroke-width="0.3">+</text>
<text transform="translate(346.66,212.55) scale(1.07,1)" font-size="20.8" font-style="italic">+</text>
<text transform="translate(361.81,212.55) scale(1.07,1)" font-size="20.8" font-style="italic">e</text>
<text transform="translate(159.64,232.1) scale(1.07,1)" font-size="20.8" font-style="italic">H</text>
<text transform="translate(177.32,224.6) scale(1.12,1)" font-size="12.2" font-style="normal" stroke-width="0.3">+</text>
<text transform="translate(187.36,232.1) scale(1.07,1)" font-size="20.8" font-style="italic">+</text>
<text transform="translate(203.94,232.1) scale(1.07,1)" font-size="20.8" font-style="italic">He</text>
<text transform="translate(244.34,232.1) scale(1.07,1)" font-size="20.8" font-style="italic">H</text>
<text transform="translate(262.22,224.6) scale(1.12,1)" font-size="12.2" font-style="normal" stroke-width="0.3">+</text>
<text transform="translate(272.76,232.1) scale(1.07,1)" font-size="20.8" font-style="italic">+</text>
<text transform="translate(289.04,232.1) scale(1.07,1)" font-size="20.8" font-style="italic">He</text>
<text transform="translate(317.16,222.6) scale(1.06,1)" font-size="11.6" font-style="normal" stroke-width="0.3">2</text>
<text transform="translate(324.32,224.6) scale(1.12,1)" font-size="12.2" font-style="normal" stroke-width="0.3">+</text>
<text transform="translate(335.46,232.1) scale(1.07,1)" font-size="20.8" font-style="italic">+</text>
<text transform="translate(351.72,232.1) scale(1.07,1)" font-size="20.8" font-style="normal">2</text>
<text transform="translate(361.81,232.1) scale(1.07,1)" font-size="20.8" font-style="italic">e</text>
<path d="M231.4,107.95 h10.8 M238,104.45 q1.6,2.6 4.6,3.5 q-3,0.9 -4.6,3.5 M243,127.5 h10.8 M249.6,124 q1.6,2.6 4.6,3.5 q-3,0.9 -4.6,3.5 M231.4,147.05 h10.8 M238,143.55 q1.6,2.6 4.6,3.5 q-3,0.9 -4.6,3.5 M220.9,166.6 h10.8 M227.5,163.1 q1.6,2.6 4.6,3.5 q-3,0.9 -4.6,3.5 M231.2,186.15 h10.8 M237.8,182.65 q1.6,2.6 4.6,3.5 q-3,0.9 -4.6,3.5 M242.9,205.7 h10.8 M249.5,202.2 q1.6,2.6 4.6,3.5 q-3,0.9 -4.6,3.5 M231.2,225.25 h10.8 M237.8,221.75 q1.6,2.6 4.6,3.5 q-3,0.9 -4.6,3.5" fill="none" stroke-width="1.45" stroke-linecap="round"/>
</g>
</svg>
</body></html>
